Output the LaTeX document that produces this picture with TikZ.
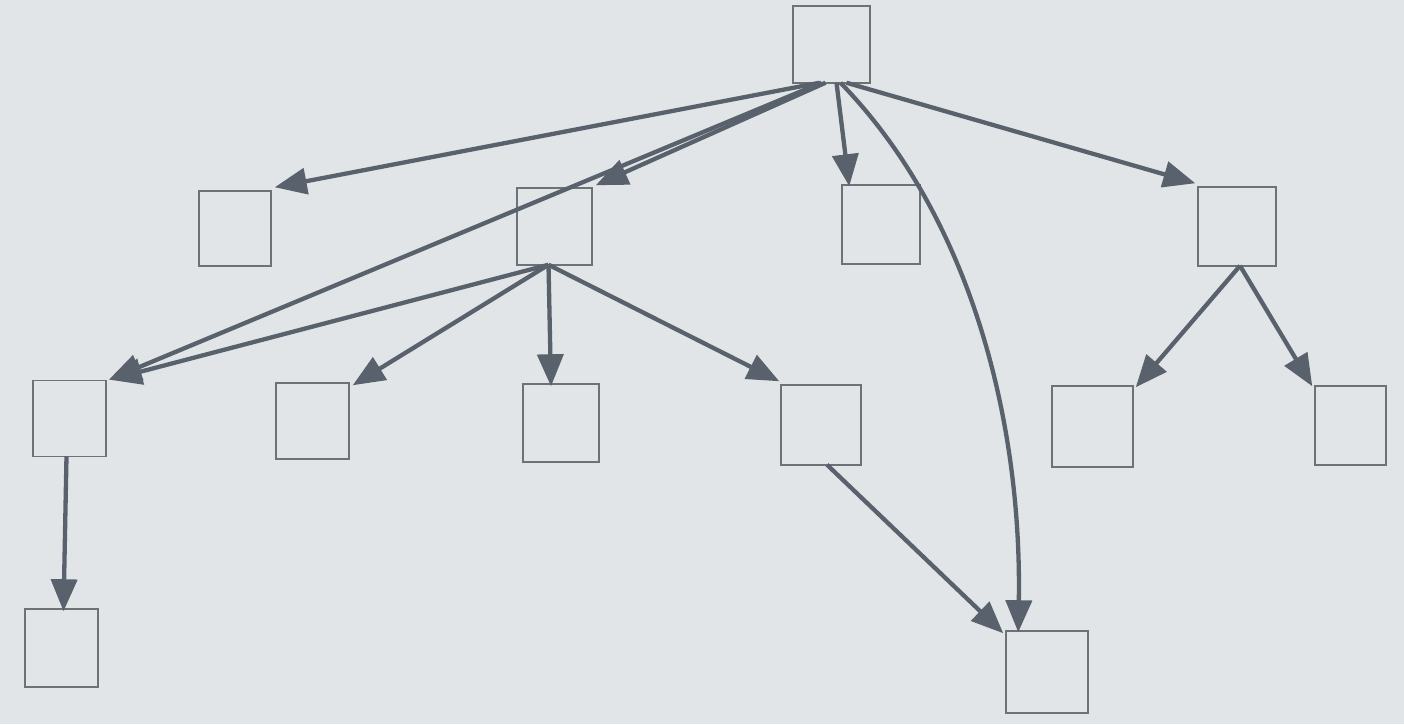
\documentclass[tikz,border=0pt]{standalone}
\usetikzlibrary{arrows.meta}
\definecolor{paper}{HTML}{E1E5E7}
\definecolor{ink}{HTML}{59626C}
\definecolor{boxline}{HTML}{6C7276}
\begin{document}
\begin{tikzpicture}[x=1pt,y=-1pt,
  box/.style={draw=boxline,line width=1.5pt,inner sep=0pt,minimum width=#1},
  box/.default=76pt,
  conn/.style={draw=ink,line width=4.3pt,-{Triangle[length=32pt,width=26pt]}}]
\fill[paper] (0,0) rectangle (1404,724);
\useasboundingbox (0,0) rectangle (1404,724);
\node[box=77pt,minimum height=77pt] (top) at (831.5,44.5) {};
\node[box=72pt,minimum height=75pt] (A) at (235,228.5) {};
\node[box=75pt,minimum height=77pt] (B) at (554.5,226.5) {};
\node[box=78pt,minimum height=79pt] (C) at (881,224.5) {};
\node[box=78pt,minimum height=79pt] (D) at (1237,226.5) {};
\node[box=73pt,minimum height=76pt] (E) at (69.5,418.5) {};
\node[box=73pt,minimum height=76pt] (F) at (312.5,421) {};
\node[box=76pt,minimum height=78pt] (G) at (561,423) {};
\node[box=80pt,minimum height=80pt] (H) at (821,425) {};
\node[box=81pt,minimum height=81pt] (I) at (1092.5,426.5) {};
\node[box=71pt,minimum height=79pt] (J) at (1350.5,425.5) {};
\node[box=73pt,minimum height=78pt] (K) at (61.5,648) {};
\node[box=82pt,minimum height=82pt] (L) at (1047,672) {};
% from top
\draw[conn] ([xshift=-12pt,yshift=1pt]top.south) -- ([xshift=3pt,yshift=3pt]A.north east);
\draw[conn] ([xshift=-10pt,yshift=1pt]top.south) -- ([xshift=2pt]E.north east);
\draw[conn] ([xshift=-6pt,yshift=1pt]top.south) -- ([xshift=3pt,yshift=2pt]B.north east);
\draw[conn] ([xshift=5pt,yshift=1pt]top.south) -- ([xshift=8pt,yshift=-2pt]C.north west);
\draw[conn] ([xshift=9pt,yshift=1pt]top.south) .. controls (970,216) and (1022,420) .. ([xshift=13pt,yshift=-2pt]L.north west);
\draw[conn] ([xshift=15pt,yshift=1pt]top.south) -- ([xshift=-2pt,yshift=3pt]D.north west);
% from B
\draw[conn] ([xshift=-6pt,yshift=1pt]B.south) -- ([xshift=3pt]E.north east);
\draw[conn] ([xshift=-6pt,yshift=1pt]B.south) -- ([xshift=3pt,yshift=-3pt]F.north east);
\draw[conn] ([xshift=-6pt,yshift=1pt]B.south) -- ([xshift=-10pt,yshift=-3pt]G.north);
\draw[conn] ([xshift=-6pt,yshift=1pt]B.south) -- ([xshift=-1pt,yshift=3pt]H.north west);
% from D
\draw[conn] ([xshift=3pt,yshift=1pt]D.south) -- ([xshift=2pt,yshift=-2pt]I.north east);
\draw[conn] ([xshift=3pt,yshift=1pt]D.south) -- ([xshift=-2pt,yshift=-1pt]J.north west);
% others
\draw[conn] ([xshift=-3pt,yshift=1pt]E.south) -- ([xshift=2pt,yshift=-3pt]K.north);
\draw[conn] ([xshift=6pt,yshift=1pt]H.south) -- ([xshift=-2pt,yshift=-3pt]L.north west);
\end{tikzpicture}
\end{document}
